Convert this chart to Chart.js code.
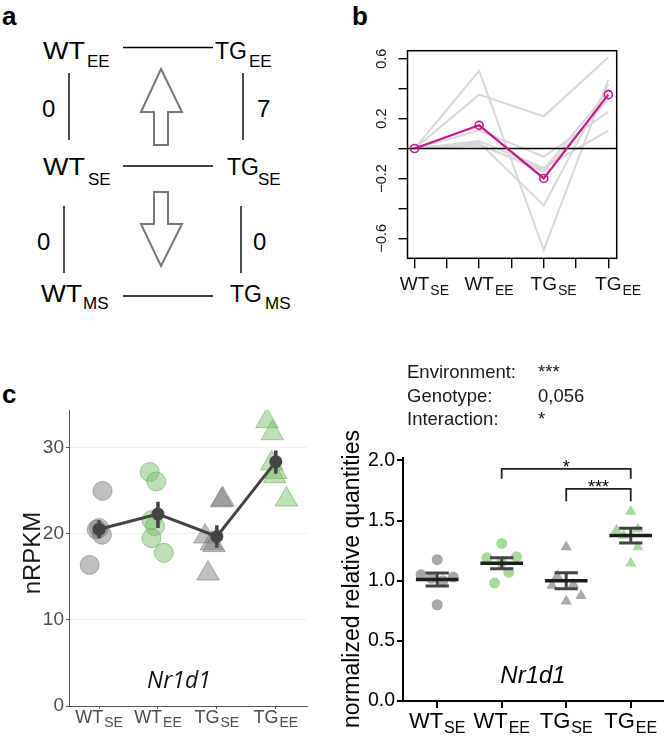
<!DOCTYPE html>
<html>
<head>
<meta charset="utf-8">
<script src="https://cdn.jsdelivr.net/npm/chart.js@4.4.1/dist/chart.umd.min.js"></script>
<style>
  html, body { margin: 0; padding: 0; background: #fff; }
  body { position: relative; width: 666px; height: 739px; overflow: hidden; font-family: "Liberation Sans", Arial, sans-serif; }
  .panel { position: absolute; }
  #diagram { position: absolute; left: 0; top: 0; }
</style>
</head>
<body>

<!-- panel a: the design scheme, plus the panel letters -->
<svg id="diagram" width="666" height="739" font-family="Liberation Sans, Arial, sans-serif">
  <text x="2" y="25" font-size="26" font-weight="bold">a</text>
  <text x="352" y="25" font-size="26" font-weight="bold">b</text>
  <text x="2" y="403" font-size="26" font-weight="bold">c</text>

  <g font-size="23" fill="#000">
    <text x="43" y="59" textLength="42" lengthAdjust="spacingAndGlyphs">WT</text><text x="87" y="67" font-size="17">EE</text>
    <text x="215" y="59">TG</text><text x="249" y="67" font-size="17">EE</text>
    <text x="43" y="175" textLength="42" lengthAdjust="spacingAndGlyphs">WT</text><text x="88" y="185" font-size="17">SE</text>
    <text x="227" y="175">TG</text><text x="258" y="185" font-size="17">SE</text>
    <text x="41" y="302" textLength="41" lengthAdjust="spacingAndGlyphs">WT</text><text x="83" y="309" font-size="17">MS</text>
    <text x="230" y="302">TG</text><text x="265" y="309" font-size="17">MS</text>
  </g>
  <g font-size="24" fill="#000">
    <text x="42" y="117">0</text>
    <text x="257" y="117">7</text>
    <text x="37" y="250">0</text>
    <text x="253" y="250">0</text>
  </g>
  <g stroke="#000" stroke-width="1.4">
    <line x1="123" y1="47.5" x2="213" y2="47.5"/>
    <line x1="123" y1="166" x2="213" y2="166"/>
    <line x1="123" y1="296" x2="213" y2="296"/>
    <line x1="69" y1="73" x2="69" y2="140"/>
    <line x1="243" y1="73" x2="243" y2="140"/>
    <line x1="64" y1="206" x2="64" y2="273"/>
    <line x1="241" y1="206" x2="241" y2="273"/>
  </g>
  <g stroke="#777" stroke-width="2" fill="#fff" stroke-linejoin="miter">
    <polygon points="161,69 182,112 168,112 168,145 154,145 154,112 141,112"/>
    <polygon points="154,192 168,192 168,224 182,224 161,266 141,224 154,224"/>
  </g>
</svg>

<div class="panel" style="left:330px;top:0;width:336px;height:320px"><canvas id="profileChart"></canvas></div>
<div class="panel" style="left:0;top:320px;width:330px;height:419px"><canvas id="rnaChart"></canvas></div>
<div class="panel" style="left:330px;top:320px;width:336px;height:419px"><canvas id="qpcrChart"></canvas></div>

<script>
"use strict";

// groups, shared by all three plots
const groupMain = ["WT", "WT", "TG", "TG"];
const groupSub = ["SE", "EE", "SE", "EE"];

// b: expression profiles (log ratio vs WT_SE)
const profilePos = [1, 3, 5, 7];
const profileXTicks = [1, 2, 3, 4, 5, 6, 7];
const profileYTicks = [-0.6, -0.4, -0.2, 0, 0.2, 0.4, 0.6];
const profileYLabels = [-0.6, -0.2, 0.2, 0.6];
const nr1d1Profile = [0, 0.155, -0.2, 0.36];
const otherProfiles = [
    [0, 0.36, 0.215, 0.61],
    [0, 0.52, -0.68, 0.46],
    [0, 0.04, -0.38, 0.43],
    [0, 0.12, -0.055, 0.245],
    [0, 0.05, -0.13, 0.12],
    [0, 0.03, -0.155, 0.33],
    [0, 0.02, -0.14, 0.38]
];

// c left: RNA-seq nRPKM
const rnaYTicks = [0, 10, 20, 30];
const rnaMean = [20.55, 22.3, 19.7, 28.4];
const rnaLow = [19.5, 20.7, 18.4, 27.0];
const rnaHigh = [21.6, 23.75, 21.0, 29.7];
const rnaValues = [
    [25.0, 20.7, 20.5, 19.9, 16.4],
    [27.2, 26.1, 21.6, 20.9, 19.5, 17.8],
    [24.0, 23.9, 19.7, 18.9, 18.7, 15.4],
    [33.1, 31.7, 28.2, 27.2, 26.7, 24.0]
];
const rnaJitter = [
    [0.06, 0.0, -0.04, 0.05, -0.16],
    [-0.14, -0.03, -0.11, -0.05, -0.11, 0.10],
    [0.10, 0.08, -0.20, -0.09, -0.05, -0.15],
    [-0.15, -0.06, -0.07, 0.0, -0.02, 0.18]
];

// c right: qPCR normalized relative quantities
const qpcrYTicks = [0, 0.5, 1, 1.5, 2];
const qpcrMean = [1.01, 1.145, 1.0, 1.375];
const qpcrSem = [0.053, 0.046, 0.067, 0.061];
const qpcrValues = [
    [1.175, 1.05, 1.03, 1.02, 1.0, 0.80],
    [1.31, 1.19, 1.20, 1.15, 1.07, 0.98],
    [1.28, 1.04, 0.97, 0.96, 0.875, 0.83],
    [1.575, 1.42, 1.43, 1.375, 1.28, 1.145]
];
const qpcrJitter = [
    [0, -0.25, 0.25, -0.09, 0.09, 0],
    [0, -0.23, 0.23, 0, 0.11, -0.11],
    [0, -0.14, 0.11, -0.22, 0.23, 0],
    [0, -0.22, 0.11, -0.11, 0.11, 0]
];
const anovaTerms = ["Environment:", "Genotype:", "Interaction:"];
const anovaResults = ["***", "0,056", "*"];
const brackets = [
    { from: 2, to: 4, top: 1.93, foot: 1.847, label: "*" },
    { from: 3, to: 4, top: 1.764, foot: 1.66, label: "***" }
];

const FONT = '"Liberation Sans", Arial, sans-serif';
Chart.defaults.font.family = FONT;
Chart.defaults.animation = false;

const GREY = "rgba(128,128,128,0.5)";
const GREY_EDGE = "rgba(100,100,100,0.45)";
const GREEN = "rgba(125,192,112,0.5)";
const GREEN_EDGE = "rgba(85,160,75,0.5)";

function fixedTicks(values) {
    return scale => { scale.ticks = values.map(v => ({ value: v })); };
}

// line pieces joined by gaps, so one dataset can hold many short strokes
function segments(pairs) {
    const out = [];
    pairs.forEach(([a, b]) => out.push(a, b, { x: b.x, y: null }));
    return out;
}

function groupLabel(ctx, x, y, main, sub, mainSize, subSize, drop, wholeCentered, color) {
    ctx.save();
    ctx.fillStyle = color;
    ctx.textAlign = "left";
    ctx.textBaseline = "alphabetic";
    ctx.font = mainSize + "px " + FONT;
    const w1 = ctx.measureText(main).width;
    ctx.font = subSize + "px " + FONT;
    const w2 = ctx.measureText(sub).width;
    const left = wholeCentered ? x - (w1 + 1 + w2) / 2 : x - w1 / 2;
    ctx.font = mainSize + "px " + FONT;
    ctx.fillText(main, left, y);
    ctx.font = subSize + "px " + FONT;
    ctx.fillText(sub, left + w1 + 1, y + drop);
    ctx.restore();
}

function rotatedText(ctx, text, x, y, font, color) {
    ctx.save();
    ctx.translate(x, y);
    ctx.rotate(-Math.PI / 2);
    ctx.font = font;
    ctx.fillStyle = color;
    ctx.textAlign = "center";
    ctx.textBaseline = "middle";
    ctx.fillText(text, 0, 0);
    ctx.restore();
}

const baseOptions = {
    responsive: true,
    maintainAspectRatio: false,
    events: [],
    plugins: { legend: { display: false }, tooltip: { enabled: false } }
};

/* ---------- b ---------- */
const PX_MIN = 0.78, PX_MAX = 7.26;

const profileDecor = {
    id: "profileDecor",
    afterDraw(chart) {
        const { ctx, chartArea: a, scales: { x, y } } = chart;
        ctx.save();
        ctx.strokeStyle = "#000";
        ctx.lineWidth = 1.5;
        ctx.strokeRect(a.left, a.top, a.right - a.left, a.bottom - a.top);
        ctx.restore();
        profileYLabels.forEach(v => {
            const txt = (v < 0 ? "\u2212" : "") + Math.abs(v).toFixed(1);
            rotatedText(ctx, txt, a.left - 26, y.getPixelForValue(v), "14.5px " + FONT, "#111");
        });
        groupMain.forEach((m, i) => {
            groupLabel(ctx, x.getPixelForValue(profilePos[i]), 290, m, groupSub[i], 19, 14, 5, false, "#111");
        });
    }
};

new Chart(document.getElementById("profileChart"), {
    type: "scatter",
    data: {
        datasets: [
            {
                data: nr1d1Profile.map((v, i) => ({ x: profilePos[i], y: v })),
                showLine: true,
                borderColor: "#c8178b",
                borderWidth: 2.2,
                pointRadius: 4,
                pointBorderWidth: 1.6,
                pointBorderColor: "#c8178b",
                pointBackgroundColor: "rgba(0,0,0,0)"
            },
            {
                data: [{ x: PX_MIN, y: 0 }, { x: PX_MAX, y: 0 }],
                showLine: true,
                borderColor: "#000",
                borderWidth: 1.3,
                pointRadius: 0
            },
            ...otherProfiles.map(p => ({
                data: p.map((v, i) => ({ x: profilePos[i], y: v })),
                showLine: true,
                borderColor: "#d8d8d8",
                borderWidth: 2,
                pointRadius: 0
            }))
        ]
    },
    options: {
        ...baseOptions,
        layout: { autoPadding: false, padding: { left: 68.5, top: 50.7, right: 49.3, bottom: 51.7 } },
        scales: {
            x: {
                type: "linear", min: PX_MIN, max: PX_MAX,
                afterBuildTicks: fixedTicks(profileXTicks),
                ticks: { display: false },
                border: { display: false },
                grid: { drawOnChartArea: false, tickLength: 10, color: "#000", lineWidth: 1.4 }
            },
            y: {
                type: "linear", min: -0.734, max: 0.654,
                afterBuildTicks: fixedTicks(profileYTicks),
                ticks: { display: false },
                border: { display: false },
                grid: { drawOnChartArea: false, tickLength: 9, color: "#000", lineWidth: 1.4 }
            }
        }
    },
    plugins: [profileDecor]
});

/* ---------- c left ---------- */
const rnaDecor = {
    id: "rnaDecor",
    afterDraw(chart) {
        const { ctx, chartArea: a, scales: { x, y } } = chart;
        ctx.save();
        ctx.font = "19px " + FONT;
        ctx.fillStyle = "#4d4d4d";
        ctx.textAlign = "right";
        ctx.textBaseline = "middle";
        rnaYTicks.forEach(v => ctx.fillText(String(v), a.left - 5, y.getPixelForValue(v)));
        ctx.font = "italic 23px \"Open Sans\", " + FONT;
        ctx.fillStyle = "#111";
        ctx.textAlign = "center";
        ctx.textBaseline = "alphabetic";
        ctx.fillText("Nr1d1", 179, 368);
        ctx.restore();
        groupMain.forEach((m, i) => {
            groupLabel(ctx, x.getPixelForValue(i + 1), 403, m, groupSub[i], 18, 14, 4, true, "#4d4d4d");
        });
        rotatedText(ctx, "nRPKM", 33, 233, "24px " + FONT, "#1a1a1a");
    }
};

function rnaPoints(i) {
    const ee = groupSub[i] === "EE";
    return {
        data: rnaValues[i].map((v, j) => ({ x: i + 1 + rnaJitter[i][j], y: v })),
        pointStyle: i < 2 ? "circle" : "triangle",
        pointRadius: i < 2 ? 9.5 : 13,
        pointBackgroundColor: ee ? GREEN : GREY,
        pointBorderColor: ee ? GREEN_EDGE : GREY_EDGE,
        pointBorderWidth: 1
    };
}

new Chart(document.getElementById("rnaChart"), {
    type: "scatter",
    data: {
        datasets: [
            {
                data: rnaMean.map((v, i) => ({ x: i + 1, y: v })),
                showLine: true,
                borderColor: "#444",
                borderWidth: 3,
                pointRadius: 6.5,
                pointBackgroundColor: "#444",
                pointBorderWidth: 0
            },
            {
                data: segments(rnaMean.map((v, i) => [{ x: i + 1, y: rnaLow[i] }, { x: i + 1, y: rnaHigh[i] }])),
                showLine: true,
                borderColor: "#444",
                borderWidth: 3.5,
                pointRadius: 0
            },
            ...[0, 1, 2, 3].map(rnaPoints)
        ]
    },
    options: {
        ...baseOptions,
        layout: { autoPadding: false, padding: { left: 66, top: 90, right: 23, bottom: 30 } },
        scales: {
            x: {
                type: "linear", min: 0.49, max: 4.53,
                afterBuildTicks: fixedTicks([1, 2, 3, 4]),
                ticks: { display: false },
                border: { display: true, color: "#555", width: 1 },
                grid: { drawOnChartArea: false, tickLength: 3, color: "#555", lineWidth: 1 }
            },
            y: {
                type: "linear", min: 0, max: 34.4,
                afterBuildTicks: fixedTicks(rnaYTicks),
                ticks: { display: false },
                border: { display: true, color: "#555", width: 1 },
                grid: { drawOnChartArea: true, tickLength: 3, color: "#efefef", tickColor: "#555", lineWidth: 1 }
            }
        }
    },
    plugins: [rnaDecor]
});

/* ---------- c right ---------- */
const qpcrDecor = {
    id: "qpcrDecor",
    afterDraw(chart) {
        const { ctx, chartArea: a, scales: { x, y } } = chart;
        ctx.save();
        ctx.fillStyle = "#000";
        ctx.font = "19.5px " + FONT;
        ctx.textAlign = "right";
        ctx.textBaseline = "middle";
        qpcrYTicks.forEach(v => ctx.fillText(v.toFixed(1), a.left - 8, y.getPixelForValue(v)));

        ctx.textAlign = "left";
        ctx.textBaseline = "alphabetic";
        ctx.font = "18.5px " + FONT;
        ctx.fillStyle = "#1a1a1a";
        anovaTerms.forEach((t, i) => {
            ctx.fillText(t, 77, 58 + i * 23.5);
            ctx.fillText(anovaResults[i], 208, 58 + i * 23.5);
        });

        ctx.textAlign = "center";
        ctx.fillStyle = "#000";
        ctx.font = "18px " + FONT;
        brackets.forEach(b => {
            ctx.fillText(b.label, x.getPixelForValue((b.from + b.to) / 2), y.getPixelForValue(b.top) + 4.5);
        });

        ctx.font = "italic 24px " + FONT;
        ctx.fillText("Nr1d1", 203, 363);
        ctx.restore();

        groupMain.forEach((m, i) => {
            groupLabel(ctx, x.getPixelForValue(i + 1), 408, m, groupSub[i], 22, 16, 5, true, "#000");
        });
        rotatedText(ctx, "normalized relative quantities", 23, 259, "23px " + FONT, "#000");
    }
};

function qpcrPoints(i) {
    const ee = groupSub[i] === "EE";
    return {
        data: qpcrValues[i].map((v, j) => ({ x: i + 1 + qpcrJitter[i][j], y: v })),
        pointStyle: i < 2 ? "circle" : "triangle",
        pointRadius: i < 2 ? 5.5 : 6.5,
        pointBackgroundColor: ee ? "#a8d8a0" : "#a9a9a9",
        pointBorderWidth: 0
    };
}

new Chart(document.getElementById("qpcrChart"), {
    type: "scatter",
    data: {
        datasets: [
            {
                data: segments(qpcrMean.map((m, i) => [{ x: i + 0.67, y: m }, { x: i + 1.33, y: m }])),
                showLine: true,
                borderColor: "#1e1e1e",
                borderWidth: 3.5,
                pointRadius: 0
            },
            {
                data: segments(qpcrMean.flatMap((m, i) => [
                    [{ x: i + 1, y: m - qpcrSem[i] }, { x: i + 1, y: m + qpcrSem[i] }],
                    [{ x: i + 0.82, y: m + qpcrSem[i] }, { x: i + 1.18, y: m + qpcrSem[i] }],
                    [{ x: i + 0.82, y: m - qpcrSem[i] }, { x: i + 1.18, y: m - qpcrSem[i] }]
                ])),
                showLine: true,
                borderColor: "#444",
                borderWidth: 3,
                pointRadius: 0
            },
            ...brackets.map(b => ({
                data: [
                    { x: b.from, y: b.foot }, { x: b.from, y: b.top },
                    { x: b.to, y: b.top }, { x: b.to, y: b.foot }
                ],
                showLine: true,
                borderColor: "#222",
                borderWidth: 1.8,
                pointRadius: 0
            })),
            ...[0, 1, 2, 3].map(qpcrPoints)
        ]
    },
    options: {
        ...baseOptions,
        layout: { autoPadding: false, padding: { left: 67, top: 138, right: 3, bottom: 31 } },
        scales: {
            x: {
                type: "linear", min: 0.47, max: 4.5,
                afterBuildTicks: fixedTicks([1, 2, 3, 4]),
                ticks: { display: false },
                border: { display: true, color: "#000", width: 2 },
                grid: { drawOnChartArea: false, tickLength: 7, color: "#000", lineWidth: 2 }
            },
            y: {
                type: "linear", min: 0, max: 2.02,
                afterBuildTicks: fixedTicks(qpcrYTicks),
                ticks: { display: false },
                border: { display: true, color: "#000", width: 2 },
                grid: { drawOnChartArea: false, tickLength: 6, color: "#000", lineWidth: 2 }
            }
        }
    },
    plugins: [qpcrDecor]
});
</script>
</body>
</html>
